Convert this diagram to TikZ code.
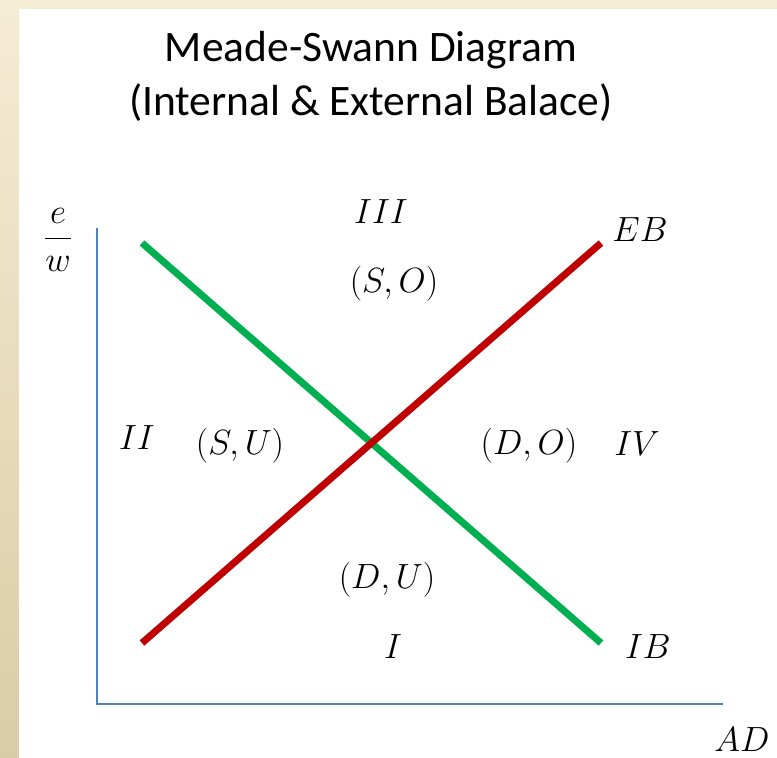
\RequirePackage{fix-cm}
\documentclass[tikz,border=0pt]{standalone}
\usepackage{fontspec}
\newfontfamily\titlefont{Carlito}
\definecolor{beigetop}{HTML}{F5ECD4}
\definecolor{beigebot}{HTML}{DACCA6}
\definecolor{ibgreen}{HTML}{00B050}
\definecolor{ebred}{HTML}{C00000}
\definecolor{axisblue}{HTML}{4F81BD}
\tikzset{
  lbl/.style={inner sep=0pt, font=\fontsize{35}{40}\selectfont},
  ttl/.style={inner sep=0pt, font=\titlefont\fontsize{43.5}{50}\selectfont},
  curve/.style={line width=7pt},
  axis/.style={draw=axisblue, line width=1.5pt}
}
\begin{document}
\begin{tikzpicture}[x=1pt,y=-1pt]
\useasboundingbox (0,0) rectangle (777,758);
\fill[beigetop] (0,0) rectangle (777,9);
\shade[top color=beigetop, bottom color=beigebot] (0,0) rectangle (19,758);
\fill[white] (19,9) rectangle (777,758);
% axes
\coordinate (O) at (97,704);
\coordinate (Ytop) at (97,228);
\coordinate (Xend) at (723,704);
\draw[axis] (Ytop) -- (O) -- (Xend);
% curves
\coordinate (ib1) at (142,243);
\coordinate (ib2) at (601,643);
\coordinate (eb1) at (142,643);
\coordinate (eb2) at (601,243);
\draw[curve, ibgreen] (ib1) -- (ib2);
\draw[curve, ebred] (eb1) -- (eb2);
% title
\node[ttl] (t1) at (371,50) {Meade-Swann Diagram};
\node[ttl] (t2) at (371,103) {(Internal \& External Balace)};
% labels
\node[lbl] (yl) at (58,240) {$\displaystyle\frac{e}{w}$};
\node[lbl] (III) at (381,212) {$III$};
\node[lbl] (SO) at (394,284) {$(S,O)$};
\node[lbl] (EB) at (640,230) {$EB$};
\node[lbl] (II) at (137,438) {$II$};
\node[lbl] (SU) at (240,446) {$(S,U)$};
\node[lbl] (DO) at (529,446) {$(D,O)$};
\node[lbl] (IV) at (637,444) {$IV$};
\node[lbl] (DU) at (387,580) {$(D,U)$};
\node[lbl] (I) at (393,647) {$I$};
\node[lbl] (IB) at (648,647) {$IB$};
\node[lbl] (AD) at (742,740) {$AD$};
\end{tikzpicture}
\end{document}
